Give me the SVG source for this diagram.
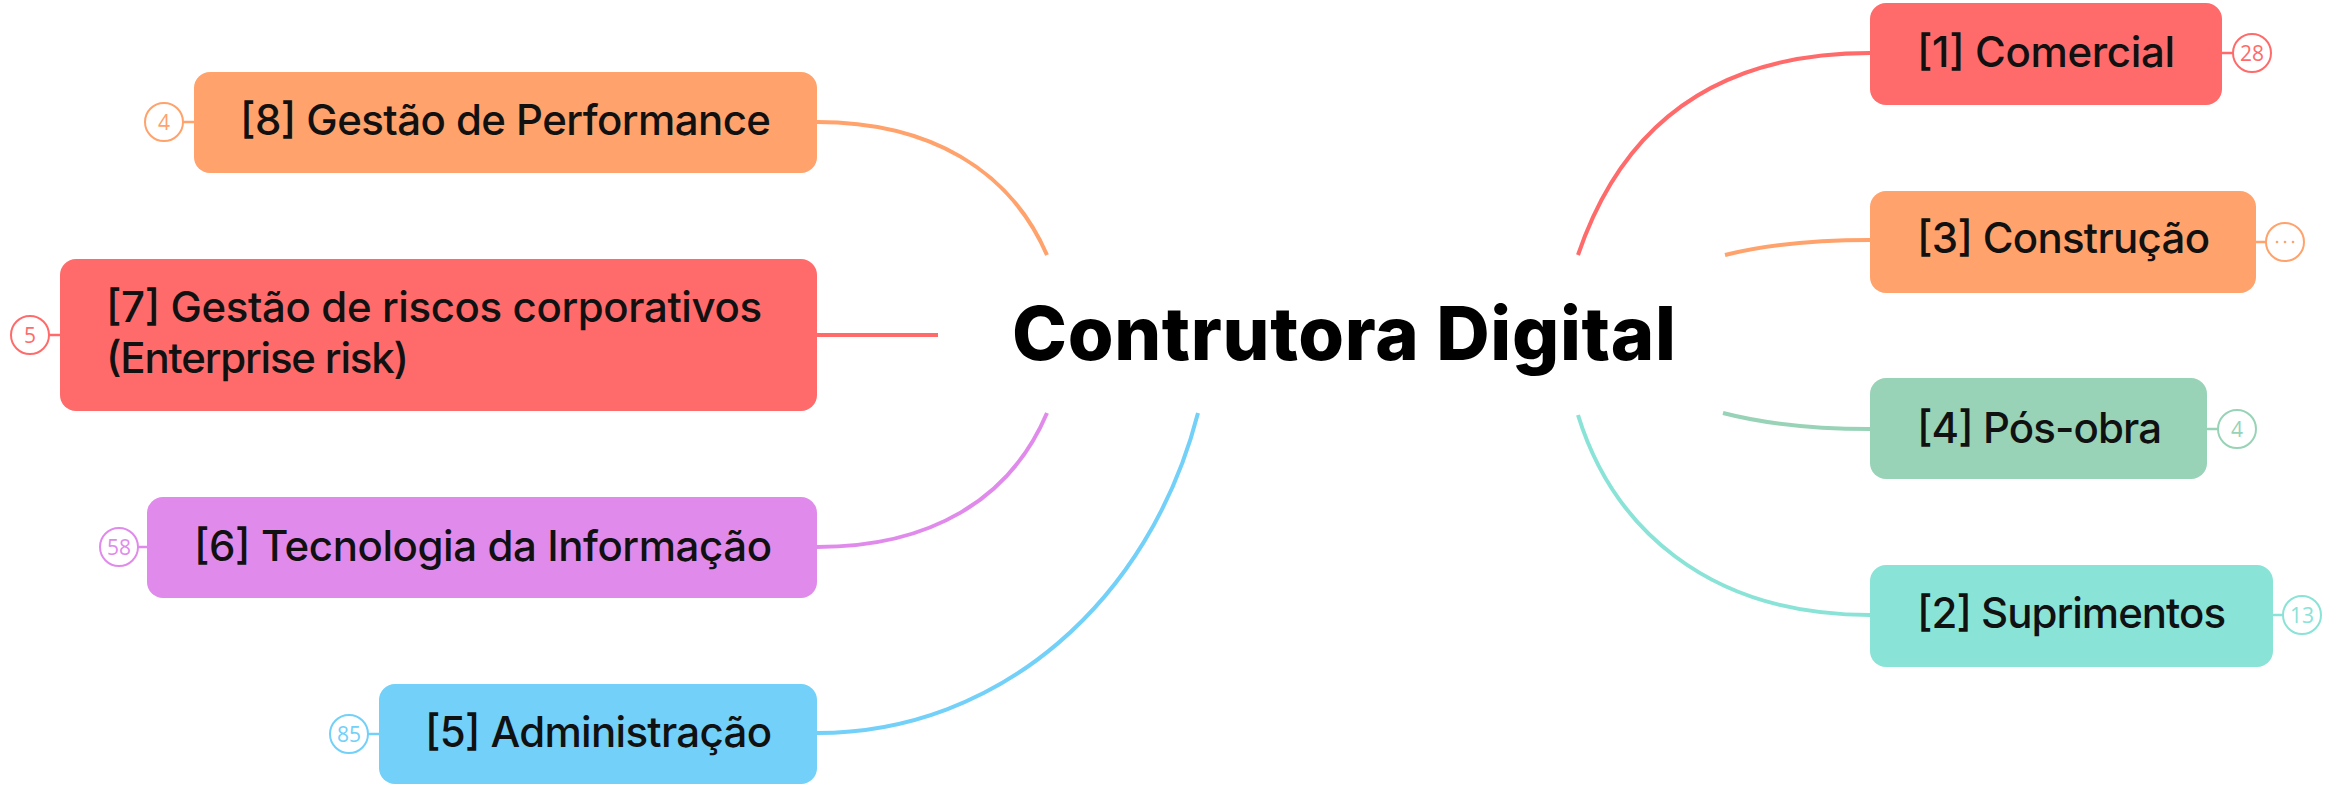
<svg xmlns="http://www.w3.org/2000/svg" width="2343" height="785" viewBox="0 0 2343 785">
<style>
.label{font-family:Inter,"Open Sans","Liberation Sans",sans-serif;font-size:42px;font-weight:500;fill:#111}
.badge circle.ring{fill:#fff;stroke-width:2}
.badge text{font-family:"Open Sans","Liberation Sans",sans-serif;font-size:21px;font-weight:400;text-anchor:middle}
.conn path{fill:none;stroke-width:4;stroke-linecap:butt}
.tick{stroke-width:2.5}
.title{font-family:Inter,"Liberation Sans",sans-serif;font-size:74px;font-weight:800;fill:#000}
</style>
<rect width="2343" height="785" fill="#fff"/>
<g id="connectors" class="conn">
<path d="M1578,255 C1622,125 1715,53 1870,53" stroke="#FF6B6B"/>
<path d="M1725,255 Q1785,240 1870,240" stroke="#FFA26B"/>
<path d="M1723,413 Q1785,429 1870,429" stroke="#98D3B7"/>
<path d="M1578,415 C1612,525 1705,615 1870,615" stroke="#8AE3D7"/>
<path d="M1047,255 C1010,170 930,122 817,122" stroke="#FFA26B"/>
<path d="M938,335 L817,335" stroke="#FF6B6B"/>
<path d="M1047,413 C1010,500 930,547 817,547" stroke="#E08BEB"/>
<path d="M1198,413 C1150,600 1000,733 817,733" stroke="#72D0F9"/>
</g>
<g id="center">
<text class="title" x="1012" y="360" textLength="664">Contrutora Digital</text>
</g>
<g id="n1" class="node">
<rect x="1870" y="3" width="352" height="102" rx="16" fill="#FF6B6B"/>
<text class="label" x="1917" y="67" textLength="258">[1] Comercial</text>
<g class="badge"><line class="tick" x1="2222" y1="53" x2="2233" y2="53" stroke="#FF6B6B"/><circle class="ring" cx="2252" cy="53" r="19" stroke="#FF6B6B"/><text x="2252" y="61" fill="#FF6B6B">28</text></g>
</g>
<g id="n3" class="node">
<rect x="1870" y="191" width="386" height="102" rx="16" fill="#FFA26B"/>
<text class="label" x="1917" y="253" textLength="293">[3] Construção</text>
<g class="badge"><line class="tick" x1="2256" y1="242" x2="2266" y2="242" stroke="#FFA26B"/><circle class="ring" cx="2285" cy="242" r="19" stroke="#FFA26B"/><circle cx="2277" cy="242" r="1.3" fill="#FFA26B"/><circle cx="2285" cy="242" r="1.3" fill="#FFA26B"/><circle cx="2293" cy="242" r="1.3" fill="#FFA26B"/></g>
</g>
<g id="n4" class="node">
<rect x="1870" y="378" width="337" height="101" rx="16" fill="#98D3B7"/>
<text class="label" x="1917" y="443" textLength="245">[4] Pós-obra</text>
<g class="badge"><line class="tick" x1="2207" y1="429" x2="2218" y2="429" stroke="#98D3B7"/><circle class="ring" cx="2237" cy="429" r="19" stroke="#98D3B7"/><text x="2237" y="437" fill="#98D3B7">4</text></g>
</g>
<g id="n2" class="node">
<rect x="1870" y="565" width="403" height="102" rx="16" fill="#8AE3D7"/>
<text class="label" x="1917" y="628" textLength="309">[2] Suprimentos</text>
<g class="badge"><line class="tick" x1="2273" y1="615" x2="2283" y2="615" stroke="#8AE3D7"/><circle class="ring" cx="2302" cy="615" r="19" stroke="#8AE3D7"/><text x="2302" y="623" fill="#8AE3D7">13</text></g>
</g>
<g id="n8" class="node">
<rect x="194" y="72" width="623" height="101" rx="16" fill="#FFA26B"/>
<text class="label" x="240" y="135" textLength="531">[8] Gestão de Performance</text>
<g class="badge"><line class="tick" x1="194" y1="122" x2="183" y2="122" stroke="#FFA26B"/><circle class="ring" cx="164" cy="122" r="19" stroke="#FFA26B"/><text x="164" y="130" fill="#FFA26B">4</text></g>
</g>
<g id="n7" class="node">
<rect x="60" y="259" width="757" height="152" rx="16" fill="#FF6B6B"/>
<text class="label" x="106" y="322" textLength="656">[7] Gestão de riscos corporativos</text>
<text class="label" x="106" y="373" textLength="303">(Enterprise risk)</text>
<g class="badge"><line class="tick" x1="60" y1="335" x2="49" y2="335" stroke="#FF6B6B"/><circle class="ring" cx="30" cy="335" r="19" stroke="#FF6B6B"/><text x="30" y="343" fill="#FF6B6B">5</text></g>
</g>
<g id="n6" class="node">
<rect x="147" y="497" width="670" height="101" rx="16" fill="#E08BEB"/>
<text class="label" x="194" y="561" textLength="578">[6] Tecnologia da Informação</text>
<g class="badge"><line class="tick" x1="147" y1="547" x2="138" y2="547" stroke="#E08BEB"/><circle class="ring" cx="119" cy="547" r="19" stroke="#E08BEB"/><text x="119" y="555" fill="#E08BEB">58</text></g>
</g>
<g id="n5" class="node">
<rect x="379" y="684" width="438" height="100" rx="16" fill="#72D0F9"/>
<text class="label" x="425" y="747" textLength="347">[5] Administração</text>
<g class="badge"><line class="tick" x1="379" y1="734" x2="368" y2="734" stroke="#72D0F9"/><circle class="ring" cx="349" cy="734" r="19" stroke="#72D0F9"/><text x="349" y="742" fill="#72D0F9">85</text></g>
</g>
</svg>
